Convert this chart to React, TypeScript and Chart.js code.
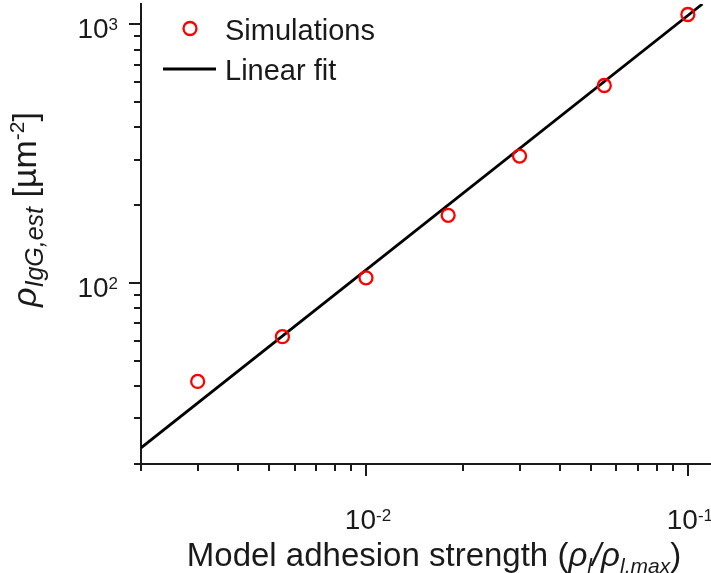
import React, { useEffect, useRef } from "react";
import { Chart, registerables } from "chart.js";

Chart.register(...registerables);

// ---- data ----
const simX = [0.003, 0.0055, 0.01, 0.018, 0.03, 0.055, 0.1];
const simY = [41.7, 62.1, 104.9, 183, 310, 581, 1093];
const fitX = [0.002, 0.111];
const fitY = [23.1, 1200];

const xMajorTicks = [0.01, 0.1];
const xMinorTicks = [0.002, 0.003, 0.004, 0.005, 0.006, 0.007, 0.008, 0.009, 0.02, 0.03, 0.04, 0.05, 0.06, 0.07, 0.08, 0.09];
const xTickBases = ["10", "10"];
const xTickExps = ["-2", "-1"];

const yMajorTicks = [100, 1000];
const yMinorTicks = [20, 30, 40, 50, 60, 70, 80, 90, 200, 300, 400, 500, 600, 700, 800, 900];
const yTickBases = ["10", "10"];
const yTickExps = ["2", "3"];

const seriesLabels = ["Simulations", "Linear fit"];

const FAMILY = "'Liberation Sans', Arial, Helvetica, sans-serif";
const INK = "#1a1a1a";

type Seg = { t: string; size: number; italic?: boolean; dy?: number };

function segFont(s: Seg) {
  return `${s.italic ? "italic " : ""}${s.size}px ${FAMILY}`;
}
function measureSegs(ctx: CanvasRenderingContext2D, segs: Seg[]) {
  let w = 0;
  for (const s of segs) {
    ctx.font = segFont(s);
    w += ctx.measureText(s.t).width;
  }
  return w;
}
function drawSegs(ctx: CanvasRenderingContext2D, segs: Seg[], x: number, y: number) {
  let cx = x;
  for (const s of segs) {
    ctx.font = segFont(s);
    ctx.fillText(s.t, cx, y + (s.dy || 0));
    cx += ctx.measureText(s.t).width;
  }
}

const decorPlugin = {
  id: "decor",
  afterDatasetsDraw(chart: any) {
    const ctx: CanvasRenderingContext2D = chart.ctx;
    const xs = chart.scales.x;
    const ys = chart.scales.y;
    const area = chart.chartArea;
    ctx.save();
    ctx.strokeStyle = INK;
    ctx.fillStyle = INK;
    ctx.lineWidth = 2;
    ctx.lineCap = "butt";

    // y ticks
    const drawY = (v: number, len: number) => {
      const p = Math.round(ys.getPixelForValue(v));
      ctx.beginPath();
      ctx.moveTo(area.left, p);
      ctx.lineTo(area.left - len, p);
      ctx.stroke();
    };
    yMinorTicks.forEach((v) => drawY(v, 7));
    yMajorTicks.forEach((v) => drawY(v, 12));
    // x ticks
    const drawX = (v: number, len: number) => {
      const p = Math.round(xs.getPixelForValue(v));
      ctx.beginPath();
      ctx.moveTo(p, area.bottom);
      ctx.lineTo(p, area.bottom + len);
      ctx.stroke();
    };
    xMinorTicks.forEach((v) => drawX(v, 7));
    xMajorTicks.forEach((v) => drawX(v, 12));

    ctx.textBaseline = "alphabetic";
    ctx.textAlign = "left";

    // y tick labels
    yMajorTicks.forEach((v, i) => {
      const p = ys.getPixelForValue(v);
      const segs: Seg[] = [
        { t: yTickBases[i], size: 28 },
        { t: yTickExps[i], size: 17, dy: -8 },
      ];
      const w = measureSegs(ctx, segs);
      drawSegs(ctx, segs, area.left - 23 - w, p + 14);
    });
    // x tick labels
    xMajorTicks.forEach((v, i) => {
      const p = xs.getPixelForValue(v);
      const segs: Seg[] = [
        { t: xTickBases[i], size: 28 },
        { t: xTickExps[i], size: 17, dy: -8 },
      ];
      const w = measureSegs(ctx, segs);
      drawSegs(ctx, segs, p - w / 2 + 2, area.bottom + 65);
    });

    // x title
    const xt: Seg[] = [
      { t: "Model adhesion strength (", size: 33 },
      { t: "ρ", size: 33, italic: true },
      { t: "l", size: 21, italic: true, dy: 7 },
      { t: "/", size: 33, italic: true },
      { t: "ρ", size: 33, italic: true },
      { t: "l,max", size: 21, italic: true, dy: 7 },
      { t: ")", size: 33 },
    ];
    const xtw = measureSegs(ctx, xt);
    drawSegs(ctx, xt, (area.left + area.right) / 2 + 8 - xtw / 2, area.bottom + 102);

    // y title (rotated)
    const yt: Seg[] = [
      { t: "ρ", size: 34, italic: true },
      { t: "IgG,est", size: 25, italic: true, dy: 7 },
      { t: " [µm", size: 34 },
      { t: "-2", size: 21, dy: -12 },
      { t: "]", size: 34 },
    ];
    ctx.save();
    ctx.translate(area.left - 105, area.top + 303);
    ctx.rotate(-Math.PI / 2);
    drawSegs(ctx, yt, 0, 0);
    ctx.restore();

    // legend
    const ds0 = chart.data.datasets[0];
    const ds1 = chart.data.datasets[1];
    const lx = area.left + 49;
    ctx.beginPath();
    ctx.strokeStyle = ds0.borderColor;
    ctx.lineWidth = ds0.borderWidth;
    ctx.arc(lx, area.top + 24.5, ds0.pointRadius, 0, Math.PI * 2);
    ctx.stroke();
    ctx.beginPath();
    ctx.strokeStyle = ds1.borderColor;
    ctx.lineWidth = ds1.borderWidth;
    ctx.moveTo(area.left + 22, area.top + 65);
    ctx.lineTo(area.left + 75, area.top + 65);
    ctx.stroke();
    ctx.fillStyle = INK;
    ctx.font = `29px ${FAMILY}`;
    ctx.fillText(ds0.label, area.left + 84, area.top + 36);
    ctx.fillText(ds1.label, area.left + 84, area.top + 76);

    ctx.restore();
  },
};

export default function App() {
  const ref = useRef<HTMLCanvasElement | null>(null);
  useEffect(() => {
    if (!ref.current) return;
    const chart = new Chart(ref.current, {
      type: "scatter",
      data: {
        datasets: [
          {
            type: "scatter",
            label: seriesLabels[0],
            data: simX.map((x, i) => ({ x, y: simY[i] })),
            pointStyle: "circle",
            pointRadius: 6.5,
            pointHoverRadius: 6.5,
            borderWidth: 2.3,
            pointBorderWidth: 2.3,
            borderColor: "#ff0000",
            backgroundColor: "rgba(0,0,0,0)",
          } as any,
          {
            type: "line",
            label: seriesLabels[1],
            data: fitX.map((x, i) => ({ x, y: fitY[i] })),
            borderColor: "#000000",
            borderWidth: 2.8,
            pointRadius: 0,
            fill: false,
            tension: 0,
          } as any,
        ],
      },
      options: {
        animation: false,
        responsive: true,
        maintainAspectRatio: false,
        layout: { autoPadding: false, padding: { left: 141, top: 4, right: 0, bottom: 109 } },
        plugins: { legend: { display: false }, tooltip: { enabled: false } },
        events: [],
        scales: {
          x: {
            type: "logarithmic",
            min: 0.002,
            max: 0.118,
            ticks: { display: false },
            grid: { display: false, drawTicks: false },
            border: { display: true, color: INK, width: 2 },
            title: { display: false },
          },
          y: {
            type: "logarithmic",
            min: 20,
            max: 1200,
            ticks: { display: false },
            grid: { display: false, drawTicks: false },
            border: { display: true, color: INK, width: 2 },
            title: { display: false },
          },
        },
      },
      plugins: [decorPlugin],
    });
    return () => chart.destroy();
  }, []);
  return (
    <div style={{ position: "absolute", left: 0, top: 0, width: 711, height: 573, background: "#ffffff" }}>
      <canvas ref={ref} />
    </div>
  );
}
